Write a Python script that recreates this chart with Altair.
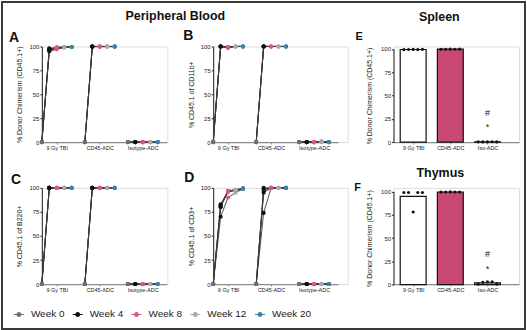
import json
import altair as alt
import pandas as pd

FONT = "Liberation Sans"

# ---------------- data ----------------
weeks = ["Week 0", "Week 4", "Week 8", "Week 12", "Week 20"]
week_colors = ["#6e6e6e", "#111111", "#e6508b", "#a8a8a8", "#3a86a7"]
pb_groups = ["9 Gy TBI", "CD45-ADC", "Isotype-ADC"]
organ_groups = ["9 Gy TBI", "CD45-ADC", "Iso-ADC"]
organ_fill = ["#ffffff", "#c94872", "#ffffff"]

# Panel A: % donor chimerism (CD45.1+), per mouse over weeks 0,4,8,12,20
a_tbi = [[0, 95, 97, 99, 99.5], [0, 96, 98, 99, 99.5], [0, 97, 98, 99, 99.5],
         [0, 97, 99, 99.5, 99.5], [0, 98, 99, 99.5, 99.5]]
a_cd45 = [[0, 99.8, 99.8, 99.8, 99.8], [0, 99.9, 99.9, 99.9, 99.9], [0, 100, 100, 100, 100],
          [0, 100, 100, 100, 100], [0, 100, 100, 100, 100]]
a_iso = [[0, 0, 0, 0, 0], [0, 0, 0, 0, 0], [0, 0, 0, 0, 0], [0, 0, 0, 0, 0], [0, 0, 0, 0, 0]]

# Panel B: % CD45.1 of CD11b+
b_tbi = [[0, 100, 98.5, 100, 100], [0, 100, 99, 100, 100], [0, 100, 99, 100, 100],
         [0, 100, 99.5, 100, 100], [0, 100, 99.5, 100, 100]]
b_cd45 = [[0, 100, 100, 100, 100], [0, 100, 100, 100, 100], [0, 100, 100, 100, 100],
          [0, 100, 100, 100, 100], [0, 100, 100, 100, 100]]
b_iso = [[0, 0, 0, 1, 0], [0, 0, 0, 0.5, 0], [0, 0, 0, 0, 0], [0, 0, 0, 0, 0], [0, 0, 0, 0, 0]]

# Panel C: % CD45.1 of B220+
c_tbi = [[0, 100, 100, 100, 100], [0, 100, 100, 100, 100], [0, 100, 100, 100, 100],
         [0, 100, 100, 100, 100], [0, 100, 100, 100, 100]]
c_cd45 = [[0, 100, 100, 100, 100], [0, 100, 100, 100, 100], [0, 100, 100, 100, 100],
          [0, 100, 100, 100, 100], [0, 100, 100, 100, 100]]
c_iso = [[0, 0, 0, 0, 0], [0, 0, 0, 0, 0], [0, 0, 0, 0, 0], [0, 0, 0, 0, 0], [0, 0, 0, 0, 0]]

# Panel D: % CD45.1 of CD3+
d_tbi = [[0, 70, 90, 95, 99], [0, 80, 96, 97, 99], [0, 81, 96, 98, 99],
         [0, 82, 97, 98, 99.5], [0, 83, 97, 98, 99.5]]
d_cd45 = [[0, 74, 100, 100, 100], [0, 95, 100, 100, 100], [0, 97, 100, 100, 100],
          [0, 99, 100, 100, 100], [0, 100, 100, 100, 100]]
d_iso = [[0, 0, 0, 0, 0], [0, 0, 0, 0, 0], [0, 0, 0, 0, 0], [0, 0, 0, 0, 0], [0, 0, 0, 0, 0]]

# Panel E: spleen, Panel F: thymus (one value per mouse)
spleen_tbi = [99.2, 99.4, 99.5, 99.3, 99.6]
spleen_cd45 = [99.6, 99.7, 99.8, 99.7, 99.8]
spleen_iso = [0.3, 0.2, 0.3, 0.4, 0.2]
thymus_tbi = [99, 99, 78, 99, 99]
thymus_cd45 = [99.5, 99.6, 99.7, 99.6, 99.5]
thymus_iso = [0.5, 2.5, 3, 3, 0.5]

annot_labels = ["#", "*"]
spleen_annot = [31.5, 16]
thymus_annot = [33, 17]

# ---------------- layout constants ----------------
STEP = 5.78
LEG_PATH = ("M-1,-0.09H1V0.09H-1Z "
            "M-0.5,0A0.5,0.5 0 1,1 0.5,0A0.5,0.5 0 1,1 -0.5,0Z")

legend = alt.Legend(title=None, orient="none", legendX=-28, legendY=264,
                    direction="horizontal", symbolType=LEG_PATH, symbolSize=100,
                    symbolStrokeWidth=0, symbolOpacity=1, labelFontSize=10,
                    labelOffset=7, columnPadding=8, labelColor="#222",
                    labelFont=FONT, labelLimit=0)


def y_axis(title, pad):
    return alt.Axis(values=[0, 25, 50, 75, 100], title=title, titleFontSize=7,
                    titleFontWeight="normal", titleColor="#222", titlePadding=pad,
                    titleFont=FONT, labelFont=FONT,
                    labelFontSize=6, labelPadding=1, tickSize=2, domainColor="#222",
                    tickColor="#222", labelColor="#222", grid=False)


def x_axis(values, names, expr):
    return alt.Axis(values=values, labelExpr=f"{json.dumps(names)}[{expr}]", title=None,
                    domainColor="#8c8c8c", domainWidth=1.3, tickColor="#8c8c8c",
                    tickSize=2, labelFontSize=5.5, labelPadding=1.5, labelColor="#222",
                    labelOverlap=False, labelFlush=False, grid=False, labelFont=FONT)


def text_layer(label, dx, dy, size, weight="bold"):
    return alt.Chart(pd.DataFrame({"label": [label]})).mark_text(
        fontSize=size, fontWeight=weight, font=FONT, color="#111",
        align="center", baseline="middle").encode(
        text="label:N", x=alt.value(dx), y=alt.value(dy))


def pb_panel(letter, ytitle, tbi, cd45, iso, width, height, letter_xy, extras=()):
    rows = []
    for gi, mice in enumerate([tbi, cd45, iso]):
        for mi, series in enumerate(mice):
            for wi, v in enumerate(series):
                rows.append({"group": pb_groups[gi], "gi": gi, "mouse": f"{gi}-{mi}",
                             "week": weeks[wi], "wi": wi, "value": v})
    df = pd.DataFrame(rows)
    base = alt.Chart(df).transform_calculate(pos=f"datum.gi * {STEP} + datum.wi")
    x = alt.X("pos:Q", scale=alt.Scale(domain=[0, 16.8], range=[0, 125.5], nice=False, zero=False),
              axis=x_axis([2, 2 + STEP, 2 + 2 * STEP], pb_groups,
                          f"round((datum.value - 2) / {STEP})"))
    y = alt.Y("value:Q", scale=alt.Scale(domain=[0, 100], range=[height, 0], nice=False),
              axis=y_axis(ytitle, 6))
    lines = base.mark_line(color="#3a3a3a", strokeWidth=0.9).encode(
        x=x, y=y, detail="mouse:N", order="wi:Q")
    points = base.mark_circle(size=17, opacity=1).encode(
        x=x, y=y,
        color=alt.Color("week:N", scale=alt.Scale(domain=weeks, range=week_colors),
                        sort=weeks, legend=legend))
    letter_layer = text_layer(letter, letter_xy[0], letter_xy[1], 14)
    return alt.layer(*extras, lines, points, letter_layer).properties(width=width, height=height)


def organ_panel(letter, tbi, cd45, iso, annot_vals, heading, heading_xy, letter_xy,
                height, yrange):
    rows = []
    for gi, vals in enumerate([tbi, cd45, iso]):
        for idx, v in enumerate(vals):
            rows.append({"group": organ_groups[gi], "gi": gi, "idx": idx, "value": v})
    df = pd.DataFrame(rows)
    xs = alt.Scale(domain=[-0.395, 2.716], nice=False, zero=False)
    xa = x_axis([0, 1, 2], organ_groups, "datum.value")
    ys = alt.Scale(domain=[0, 100], range=yrange, nice=False)
    ya = y_axis("% Donor Chimerism (CD45.1+)", 8)
    bars = alt.Chart(df).mark_bar(size=26, stroke="#111", strokeWidth=1.2).encode(
        x=alt.X("gi:Q", scale=xs, axis=xa),
        y=alt.Y("mean(value):Q", scale=ys, axis=ya),
        fill=alt.Fill("group:N", scale=alt.Scale(domain=organ_groups, range=organ_fill),
                      legend=None))
    pts = alt.Chart(df).transform_calculate(
        xp="datum.gi + (datum.idx - 2) * 0.125").mark_circle(
        size=10, color="#111", opacity=1).encode(
        x=alt.X("xp:Q", scale=xs, axis=xa), y=alt.Y("value:Q", scale=ys, axis=ya))
    adf = pd.DataFrame({"label": annot_labels, "value": annot_vals, "gi": [2, 2]})
    ann = alt.Chart(adf).mark_text(fontSize=9, font=FONT, color="#111",
                                   baseline="middle").encode(
        x=alt.X("gi:Q", scale=xs, axis=xa), y=alt.Y("value:Q", scale=ys, axis=ya),
        text="label:N")
    head = text_layer(heading, heading_xy[0], heading_xy[1], 12.5)
    let = text_layer(letter, letter_xy[0], letter_xy[1], 11)
    return alt.layer(bars, pts, ann, head, let).properties(width=126, height=height)


frame = alt.Chart(pd.DataFrame({"k": [0]})).mark_rect(
    fill="transparent", stroke="#3a3a3a", strokeWidth=2).encode(
    x=alt.value(-40), x2=alt.value(485), y=alt.value(-44.5), y2=alt.value(283.5))
pb_head = text_layer("Peripheral Blood", 134, -30.5, 12.5)

A = pb_panel("A", "% Donor Chimerism (CD45.1+)", a_tbi, a_cd45, a_iso, 126, 96,
             (-28, -8.5), extras=(frame, pb_head))
B = pb_panel("B", "% CD45.1 of CD11b+", b_tbi, b_cd45, b_iso, 135, 96, (-25, -10.5))
C = pb_panel("C", "% CD45.1 of B220+", c_tbi, c_cd45, c_iso, 126, 96.5, (-26, -8))
D = pb_panel("D", "% CD45.1 of CD3+", d_tbi, d_cd45, d_iso, 135, 96.5, (-24, -10))
E = organ_panel("E", spleen_tbi, spleen_cd45, spleen_iso, spleen_annot, "Spleen",
                (46, -29.5), (-34.5, -9.5), 96, [96, 2.5])
F = organ_panel("F", thymus_tbi, thymus_cd45, thymus_iso, thymus_annot, "Thymus",
                (47, -15), (-36, 0.5), 96.5, [97, 3.7])

chart = alt.concat(A, B, E, C, D, F, columns=3, spacing=46, bounds="flush",
                   align="each").resolve_scale(
    x="independent", y="independent", color="shared", fill="shared"
).properties(padding=0, background="white").configure_view(strokeWidth=0).configure(
    font=FONT)

chart.save("out.html", embed_options={"renderer": "svg", "actions": False})
